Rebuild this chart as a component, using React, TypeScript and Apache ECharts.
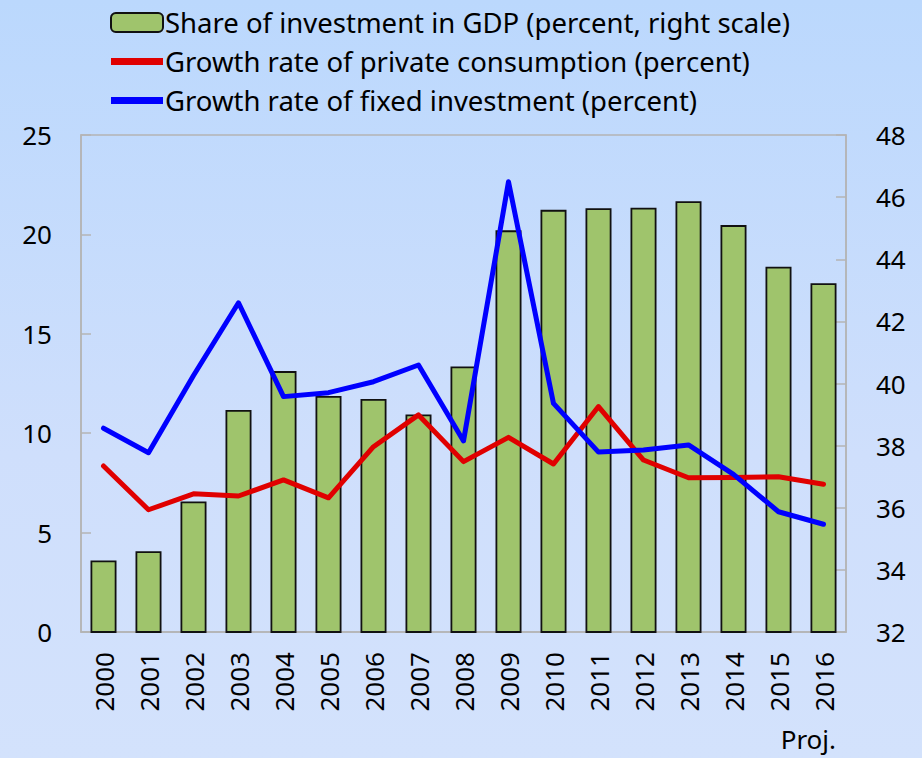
import React, { useEffect, useRef } from 'react';
import * as echarts from 'echarts';

const years = ['2000', '2001', '2002', '2003', '2004', '2005', '2006', '2007', '2008', '2009', '2010', '2011', '2012', '2013', '2014', '2015', '2016'];
const investmentShare = [34.3, 34.6, 36.2, 39.15, 40.4, 39.6, 39.5, 39.0, 40.55, 44.93, 45.59, 45.64, 45.66, 45.87, 45.1, 43.76, 43.23];
const consumptionGrowth = [8.35, 6.15, 6.95, 6.84, 7.65, 6.75, 9.32, 10.92, 8.57, 9.79, 8.45, 11.34, 8.65, 7.76, 7.77, 7.81, 7.43];
const fixedInvestmentGrowth = [10.25, 9.02, 12.9, 16.56, 11.84, 12.04, 12.59, 13.43, 9.61, 22.65, 11.5, 9.05, 9.15, 9.41, 7.93, 6.05, 5.42];
const leftAxisRange = [0, 25, 5];
const rightAxisRange = [32, 48, 2];
const seriesNames = [
  'Share of investment in GDP (percent, right scale)',
  'Growth rate of private consumption (percent)',
  'Growth rate of fixed investment (percent)',
];
const projLabel = 'Proj.';

const FONT = '"Noto Sans", "DejaVu Sans", sans-serif';
const AXIS_GRAY = '#b4b4b4';
const LINE_ICON = 'path://M0,0 L52,0 L52,7 L0,7 Z';

export default function App() {
  const ref = useRef<HTMLDivElement>(null);
  useEffect(() => {
    document.body.style.margin = '0';
    const chart = echarts.init(ref.current!, null, { renderer: 'svg' });
    chart.setOption({
      animation: false,
      textStyle: { fontFamily: FONT },
      legend: {
        orient: 'vertical',
        left: 105,
        top: 3,
        itemWidth: 52,
        itemHeight: 19,
        itemGap: 10,
        symbolKeepAspect: true,
        textStyle: { fontSize: 27.5, lineHeight: 29, color: '#000', fontFamily: FONT, padding: [0, 0, 0, -3] },
        data: [
          { name: seriesNames[0] },
          { name: seriesNames[1], icon: LINE_ICON, itemStyle: { color: '#e00000', borderWidth: 0 } },
          { name: seriesNames[2], icon: LINE_ICON, itemStyle: { color: '#0000ff', borderWidth: 0 } },
        ],
      },
      grid: {
        left: 81,
        right: 76,
        top: 135,
        bottom: 126,
        show: true,
        borderColor: AXIS_GRAY,
        borderWidth: 1.5,
        backgroundColor: 'transparent',
      },
      xAxis: {
        type: 'category',
        data: years,
        boundaryGap: true,
        axisLine: { lineStyle: { color: AXIS_GRAY, width: 1.5 } },
        axisTick: { inside: true, length: 10, lineStyle: { color: AXIS_GRAY, width: 1.5 } },
        axisLabel: { rotate: 90, fontSize: 26, color: '#000', margin: 20, fontFamily: FONT },
      },
      yAxis: [
        {
          type: 'value',
          min: leftAxisRange[0],
          max: leftAxisRange[1],
          interval: leftAxisRange[2],
          position: 'left',
          axisLine: { show: true, lineStyle: { color: AXIS_GRAY, width: 1.5 } },
          axisTick: { show: true, inside: true, length: 10, lineStyle: { color: AXIS_GRAY, width: 1.5 } },
          splitLine: { show: false },
          axisLabel: { fontSize: 26, color: '#000', margin: 29, fontFamily: FONT },
        },
        {
          type: 'value',
          min: rightAxisRange[0],
          max: rightAxisRange[1],
          interval: rightAxisRange[2],
          position: 'right',
          axisLine: { show: true, lineStyle: { color: AXIS_GRAY, width: 1.5 } },
          axisTick: { show: true, inside: true, length: 10, lineStyle: { color: AXIS_GRAY, width: 1.5 } },
          splitLine: { show: false },
          axisLabel: { fontSize: 26, color: '#000', margin: 30, fontFamily: FONT },
        },
      ],
      series: [
        {
          name: seriesNames[0],
          type: 'bar',
          yAxisIndex: 1,
          data: investmentShare,
          barWidth: 26,
          itemStyle: { color: '#9fc46c', borderColor: '#111', borderWidth: 1.8 },
        },
        {
          name: seriesNames[1],
          type: 'line',
          yAxisIndex: 0,
          data: consumptionGrowth,
          symbol: 'none',
          lineStyle: { color: '#e00000', width: 5, cap: 'round', join: 'round' },
          itemStyle: { color: '#e00000' },
        },
        {
          name: seriesNames[2],
          type: 'line',
          yAxisIndex: 0,
          data: fixedInvestmentGrowth,
          symbol: 'none',
          lineStyle: { color: '#0000ff', width: 5, cap: 'round', join: 'round' },
          itemStyle: { color: '#0000ff' },
        },
      ],
      graphic: [
        {
          type: 'text',
          right: 86,
          top: 726,
          style: { text: projLabel, fontSize: 26, fill: '#000', fontFamily: FONT },
        },
      ],
    });
    return () => chart.dispose();
  }, []);
  return (
    <div
      ref={ref}
      style={{
        width: 922,
        height: 758,
        background: 'linear-gradient(to bottom, #bbd8fd 0%, #cfdffc 60%, #d3e2fc 100%)',
      }}
    />
  );
}
